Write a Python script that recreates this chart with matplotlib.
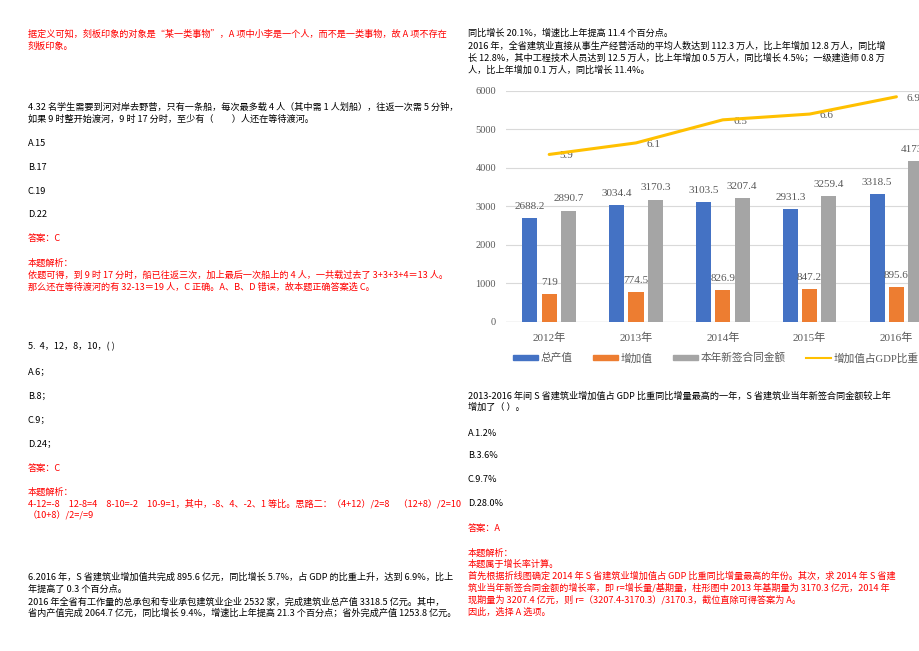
import matplotlib
matplotlib.use("Agg")
import matplotlib.pyplot as plt
import numpy as np
from matplotlib.patches import Patch
from matplotlib.lines import Line2D

# chart data
years = ["2012年", "2013年", "2014年", "2015年", "2016年"]
total_output = [2688.2, 3034.4, 3103.5, 2931.3, 3318.5]
added_value = [719, 774.5, 826.9, 847.2, 895.6]
new_contracts = [2890.7, 3170.3, 3207.4, 3259.4, 4173.6]
gdp_share = [5.9, 6.1, 6.5, 6.6, 6.9]
series_names = ["总产值", "增加值", "本年新签合同金额", "增加值占GDP比重"]
y_ticks = [0, 1000, 2000, 3000, 4000, 5000, 6000]

# page text: (y px, text, colour)
RED = "#ff0000"
BLK = "#000000"
left_lines = [
    (34, "据定义可知，刻板印象的对象是“某一类事物”，A 项中小李是一个人，而不是一类事物，故 A 项不存在", RED),
    (46, "刻板印象。", RED),
    (107, "4.32 名学生需要到河对岸去野营，只有一条船，每次最多载 4 人（其中需 1 人划船），往返一次需 5 分钟，", BLK),
    (119, "如果 9 时整开始渡河，9 时 17 分时，至少有（　　）人还在等待渡河。", BLK),
    (143, "A.15", BLK),
    (167, "B.17", BLK),
    (191, "C.19", BLK),
    (214, "D.22", BLK),
    (239, "答案：C", RED),
    (263, "本题解析：", RED),
    (275, "依题可得，到 9 时 17 分时，船已往返三次，加上最后一次船上的 4 人，一共载过去了 3+3+3+4＝13 人。", RED),
    (287, "那么还在等待渡河的有 32-13＝19 人，C 正确。A、B、D 错误，故本题正确答案选 C。", RED),
    (347, "5.  4，12，8，10，( )", BLK),
    (372, "A.6；", BLK),
    (396, "B.8；", BLK),
    (420, "C.9；", BLK),
    (444, "D.24；", BLK),
    (468, "答案：C", RED),
    (492, "本题解析：", RED),
    (504, "4-12=-8　12-8=4　8-10=-2　10-9=1，其中，-8、4、-2、1 等比。思路二：（4+12）/2=8　（12+8）/2=10", RED),
    (516, "（10+8）/2=/=9", RED),
    (577, "6.2016 年，S 省建筑业增加值共完成 895.6 亿元，同比增长 5.7%，占 GDP 的比重上升，达到 6.9%，比上", BLK),
    (589, "年提高了 0.3 个百分点。", BLK),
    (602, "2016 年全省有工作量的总承包和专业承包建筑业企业 2532 家，完成建筑业总产值 3318.5 亿元。其中，", BLK),
    (613, "省内产值完成 2064.7 亿元，同比增长 9.4%，增速比上年提高 21.3 个百分点；省外完成产值 1253.8 亿元。", BLK),
]
right_lines = [
    (33, "同比增长 20.1%，增速比上年提高 11.4 个百分点。", BLK),
    (46, "2016 年，全省建筑业直接从事生产经营活动的平均人数达到 112.3 万人，比上年增加 12.8 万人，同比增", BLK),
    (58, "长 12.8%，其中工程技术人员达到 12.5 万人，比上年增加 0.5 万人，同比增长 4.5%；一级建造师 0.8 万", BLK),
    (70, "人，比上年增加 0.1 万人，同比增长 11.4%。", BLK),
    (396, "2013-2016 年间 S 省建筑业增加值占 GDP 比重同比增量最高的一年，S 省建筑业当年新签合同金额较上年", BLK),
    (407, "增加了（ ）。", BLK),
    (433, "A.1.2%", BLK),
    (456, "B.3.6%", BLK),
    (480, "C.9.7%", BLK),
    (504, "D.28.0%", BLK),
    (528, "答案：A", RED),
    (553, "本题解析：", RED),
    (564, "本题属于增长率计算。", RED),
    (576, "首先根据折线图确定 2014 年 S 省建筑业增加值占 GDP 比重同比增量最高的年份。其次，求 2014 年 S 省建", RED),
    (588, "筑业当年新签合同金额的增长率，即 r=增长量/基期量，柱形图中 2013 年基期量为 3170.3 亿元，2014 年", RED),
    (600, "现期量为 3207.4 亿元，则 r=（3207.4-3170.3）/3170.3，截位直除可得答案为 A。", RED),
    (612, "因此，选择 A 选项。", RED),
]

W, H = 920, 651
fig = plt.figure(figsize=(W / 100, H / 100), dpi=100)
fig.patch.set_facecolor("white")

doc_font = ["Noto Sans CJK SC", "DejaVu Sans"]
for x0, lines in ((28, left_lines), (468, right_lines)):
    for y, s, c in lines:
        fig.text(x0 / W, 1 - y / H, s, color=c, fontsize=6.6, family=doc_font,
                 ha="left", va="center")

# chart (runs past the right page edge, as in the scan)
chart_font = ["Liberation Serif", "Noto Sans CJK SC"]
grey_txt = "#595959"
ax = fig.add_axes([505.8 / W, 1 - 321.7 / H, 434 / W, 230.7 / H])
x = np.arange(len(years))
bw, step = 0.173, 0.222
colors = ["#4472c4", "#ed7d31", "#a5a5a5"]
for k, vals in enumerate([total_output, added_value, new_contracts]):
    pos = x + (k - 1) * step
    ax.bar(pos, vals, width=bw, color=colors[k], zorder=3)
    for px, v in zip(pos, vals):
        ax.annotate(f"{v:g}", (px, v), xytext=(0, 8.5), textcoords="offset points",
                    ha="center", va="center", fontsize=8, color=grey_txt,
                    family=chart_font, zorder=5, annotation_clip=False)

ax.set_xlim(-0.5, len(years) - 0.5)
ax.set_ylim(0, 6000)
ax.set_yticks(y_ticks)
ax.set_yticklabels([str(t) for t in y_ticks], family=chart_font, fontsize=7.5, color=grey_txt)
ax.set_xticks(x)
ax.set_xticklabels(years, family=chart_font, fontsize=8, color=grey_txt)
ax.tick_params(length=0, pad=7)
ax.tick_params(axis="x", pad=8)
ax.grid(axis="y", color="#d9d9d9", linewidth=0.8, zorder=0)
for sp in ax.spines.values():
    sp.set_visible(False)
ax.axhline(0, color="#d9d9d9", linewidth=1, zorder=2)

ax2 = ax.twinx()
ax2.set_ylim(3, 7)
ax2.plot(x, gdp_share, color="#ffc000", linewidth=2.2, solid_joinstyle="round",
         solid_capstyle="round", zorder=4)
for px, v in zip(x, gdp_share):
    ax2.annotate(f"{v:g}", (px, v), xytext=(12.5, -1), textcoords="offset points",
                 ha="center", va="center", fontsize=8, color=grey_txt, family=chart_font)
ax2.axis("off")

handles = [Patch(color=colors[0]), Patch(color=colors[1]), Patch(color=colors[2]),
           Line2D([], [], color="#ffc000", linewidth=1.5)]
fig.legend(handles, series_names, loc="center", bbox_to_anchor=(716 / W, 1 - 358 / H),
           ncol=4, frameon=False, handlelength=2.3, handleheight=0.45,
           handletextpad=0.3, columnspacing=1.9, borderpad=0,
           prop={"family": chart_font, "size": 7.7}, labelcolor=grey_txt)

fig.savefig("out.png", dpi=100, facecolor="white")
